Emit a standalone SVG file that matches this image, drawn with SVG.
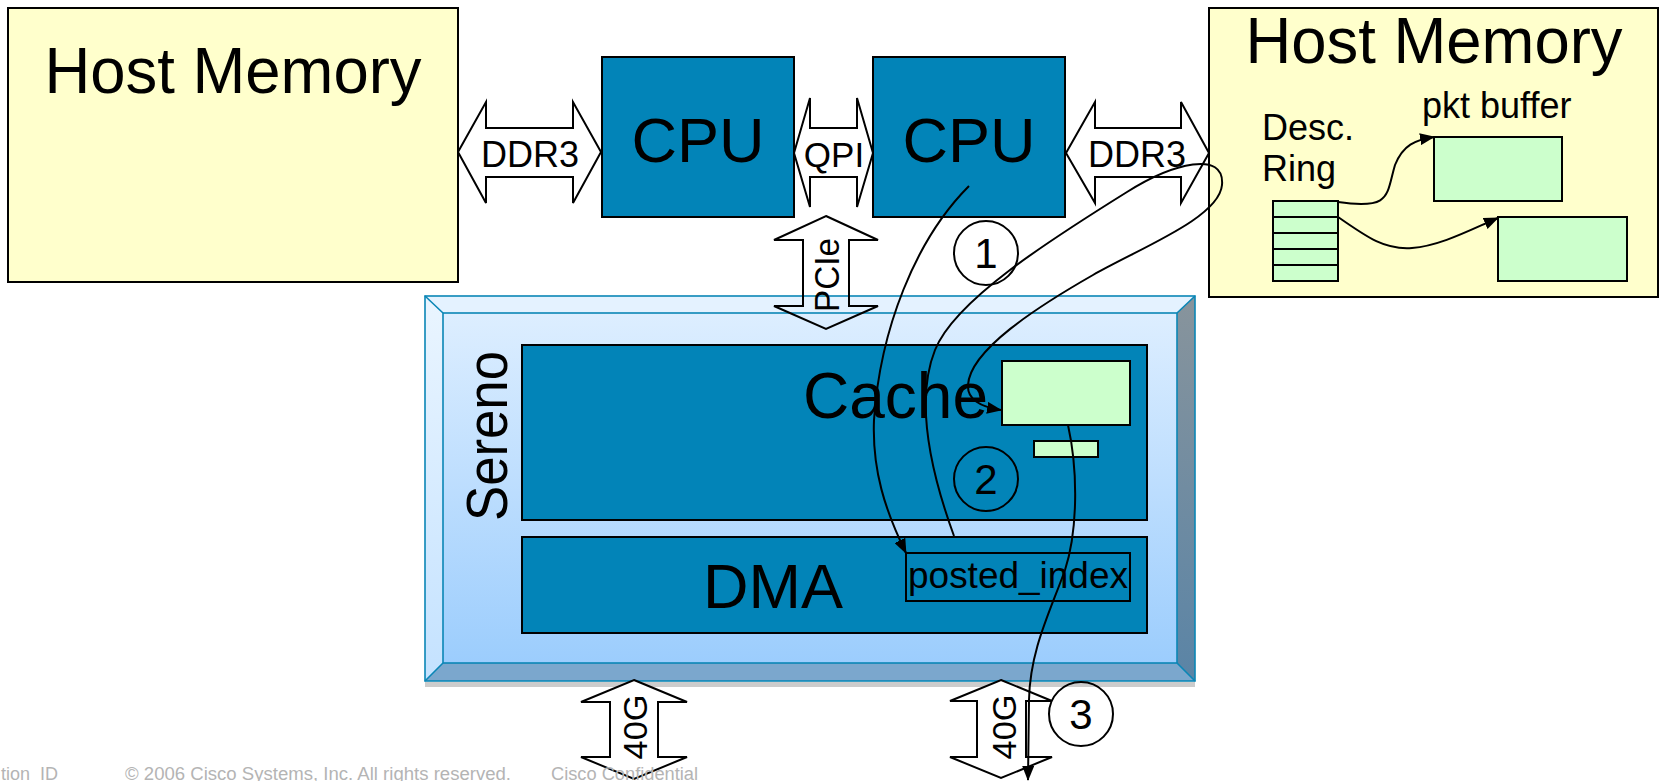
<svg xmlns="http://www.w3.org/2000/svg" width="1663" height="781" viewBox="0 0 1663 781">
<defs>
<style>
.t{font-family:"Liberation Sans",Arial,sans-serif;fill:#000}
.mem{fill:#ffffcc;stroke:#000;stroke-width:2}
.blue{fill:#0284b8;stroke:#000;stroke-width:2}
.grn{fill:#ccffcc;stroke:#000;stroke-width:2}
.big{fill:#fff;stroke:#000;stroke-width:2;stroke-linejoin:miter}
.bigo{fill:none;stroke:#000;stroke-width:2}
.con{fill:none;stroke:#000;stroke-width:2}
.circ{fill:none;stroke:#000;stroke-width:2}
.fr{stroke:#0a86b6;stroke-width:1.6}
.foot{font-family:"Liberation Sans",Arial,sans-serif;fill:#b4b4b4;font-size:18px}
</style>
<linearGradient id="face" x1="0" y1="0" x2="0" y2="1">
<stop offset="0" stop-color="#ddeeff"/>
<stop offset="1" stop-color="#9ccdfd"/>
</linearGradient>
<linearGradient id="leftb" x1="0" y1="0" x2="0" y2="1">
<stop offset="0" stop-color="#eaf5ff"/>
<stop offset="1" stop-color="#c4e2ff"/>
</linearGradient>
<linearGradient id="rightb" x1="0" y1="0" x2="0" y2="1">
<stop offset="0" stop-color="#88949c"/>
<stop offset="1" stop-color="#5a84a6"/>
</linearGradient>
<marker id="ah" markerWidth="15" markerHeight="12" refX="14" refY="6" orient="auto" markerUnits="userSpaceOnUse">
<path d="M0,0 L15,6 L0,12 z" fill="#000"/>
</marker>
</defs>

<g id="host-memory-left">
<rect class="mem" x="8" y="8" width="450" height="274"/>
<text class="t" x="233" y="93" font-size="64" text-anchor="middle" textLength="377" lengthAdjust="spacingAndGlyphs">Host Memory</text>
</g>

<g id="cpu1">
<rect class="blue" x="602" y="57" width="192" height="160"/>
<text class="t" x="698" y="162" font-size="63" text-anchor="middle">CPU</text>
</g>

<g id="cpu2">
<rect class="blue" x="873" y="57" width="192" height="160"/>
<text class="t" x="969" y="162" font-size="63" text-anchor="middle">CPU</text>
</g>

<g id="host-memory-right">
<rect class="mem" x="1209" y="8" width="449" height="289"/>
<text class="t" x="1434" y="63" font-size="64" text-anchor="middle" textLength="377" lengthAdjust="spacingAndGlyphs">Host Memory</text>
<text class="t" x="1422" y="118" font-size="36">pkt buffer</text>
<text class="t" x="1262" y="140" font-size="36">Desc.</text>
<text class="t" x="1262" y="181" font-size="36">Ring</text>
</g>

<g id="desc-ring">
<rect class="grn" x="1273" y="201" width="65" height="80"/>
<path d="M1273,217 H1338 M1273,233 H1338 M1273,249 H1338 M1273,265 H1338" stroke="#000" stroke-width="2"/>
</g>

<g id="pkt-buffer-1"><rect class="grn" x="1434" y="137" width="128" height="64"/></g>
<g id="pkt-buffer-2"><rect class="grn" x="1498" y="217" width="129" height="64"/></g>

<g id="sereno">
<rect x="425" y="682" width="770" height="5" fill="#cccccc"/>
<polygon points="425,296 1195,296 1177,313 443,313" fill="#e4f2ff"/>
<polygon points="425,296 443,313 443,663 425,681" fill="url(#leftb)"/>
<polygon points="1195,296 1195,681 1177,663 1177,313" fill="url(#rightb)"/>
<polygon points="425,681 443,663 1177,663 1195,681" fill="#7ba7cd"/>
<rect x="443" y="313" width="734" height="350" fill="url(#face)"/>
<g class="fr" fill="none">
<rect x="425" y="296" width="770" height="385"/>
<rect x="443" y="313" width="734" height="350"/>
<path d="M425,296 L443,313 M1195,296 L1177,313 M425,681 L443,663 M1195,681 L1177,663"/>
</g>
<text class="t" transform="translate(507,436) rotate(-90)" font-size="58" text-anchor="middle" textLength="170" lengthAdjust="spacingAndGlyphs">Sereno</text>
</g>

<g id="cache">
<rect class="blue" x="522" y="345" width="625" height="175"/>
<text class="t" x="803" y="418" font-size="64">Cache</text>
<rect class="grn" x="1002" y="361" width="128" height="64"/>
<rect class="grn" x="1034" y="441" width="64" height="16"/>
</g>

<g id="dma">
<rect class="blue" x="522" y="537" width="625" height="96"/>
<text class="t" x="703" y="608" font-size="63">DMA</text>
</g>

<g id="posted-index">
<rect x="906" y="553" width="224" height="48" fill="none" stroke="#000" stroke-width="2"/>
<text class="t" x="908" y="588" font-size="37" textLength="220" lengthAdjust="spacingAndGlyphs">posted_index</text>
</g>

<g id="ddr3-left">
<polygon class="big" points="458,152 486,102 486,128 573,128 573,102 601,152 573,203 573,177 486,177 486,203"/>
<text class="t" x="530" y="167" font-size="36" text-anchor="middle">DDR3</text>
</g>

<g id="qpi">
<polygon class="big" points="794,153 810,98 810,128 857,128 857,98 873,153 857,207 857,177 810,177 810,207"/>
<text class="t" x="834" y="167" font-size="35" text-anchor="middle">QPI</text>
</g>

<g id="ddr3-right">
<polygon class="big" points="1066,153 1095,102 1095,128 1181,128 1181,102 1209,153 1181,203 1181,177 1095,177 1095,203"/>
<text class="t" x="1137" y="167" font-size="36" text-anchor="middle">DDR3</text>
</g>

<g id="pcie">
<polygon class="bigo" points="826,216 878,240 849,240 849,306 878,306 826,329 774,306 803,306 803,240 774,240"/>
<text class="t" transform="translate(839,275) rotate(-90)" font-size="35" text-anchor="middle" textLength="74" lengthAdjust="spacingAndGlyphs">PCIe</text>
</g>

<g id="port-40g-left">
<polygon class="big" points="634,680 687,702 658,702 658,757 687,757 634,779 581,757 610,757 610,702 581,702"/>
<text class="t" transform="translate(647,727) rotate(-90)" font-size="34" text-anchor="middle" textLength="65" lengthAdjust="spacingAndGlyphs">40G</text>
</g>

<g id="port-40g-right">
<polygon class="big" points="1001,680 1052,701 1026,701 1026,757 1052,757 1001,778 950,757 977,757 977,701 950,701"/>
<text class="t" transform="translate(1016,727) rotate(-90)" font-size="34" text-anchor="middle" textLength="65" lengthAdjust="spacingAndGlyphs">40G</text>
</g>

<g id="step-1">
<circle class="circ" cx="986" cy="253" r="32"/>
<text class="t" x="986" y="268" font-size="42" text-anchor="middle">1</text>
</g>
<g id="step-2">
<circle class="circ" cx="986" cy="479" r="32"/>
<text class="t" x="986" y="494" font-size="42" text-anchor="middle">2</text>
</g>
<g id="step-3">
<circle class="circ" cx="1081" cy="714" r="32"/>
<text class="t" x="1081" y="729" font-size="42" text-anchor="middle">3</text>
</g>

<g id="connectors">
<path class="con" marker-end="url(#ah)" d="M1338,202 C1392,210 1386,195 1395,165 C1403,145 1415,140 1434,137"/>
<path class="con" marker-end="url(#ah)" d="M1338,217 C1368,238 1385,250 1412,248 C1440,246 1470,230 1498,218"/>
<path class="con" marker-end="url(#ah)" d="M969,186 C915,240 880,330 874,420 C872,470 885,510 906,553"/>
<path class="con" marker-end="url(#ah)" d="M954,536 C930,470 915,400 935,350 C955,300 1050,240 1127,192 C1173,163 1225,150 1222,185 C1219,218 1140,248 1093,275 C1037,307 970,350 968,385 C967,400 982,407 1001,410"/>
<path class="con" marker-end="url(#ah)" d="M1068,425 C1078,470 1078,530 1065,570 C1050,612 1030,650 1029,700 L1028,780"/>
</g>

<g id="footer">
<text class="foot" x="1" y="780">tion_ID</text>
<text class="foot" x="125" y="780" textLength="386" lengthAdjust="spacingAndGlyphs">© 2006 Cisco Systems, Inc. All rights reserved.</text>
<text class="foot" x="551" y="780" textLength="147" lengthAdjust="spacingAndGlyphs">Cisco Confidential</text>
</g>
</svg>
